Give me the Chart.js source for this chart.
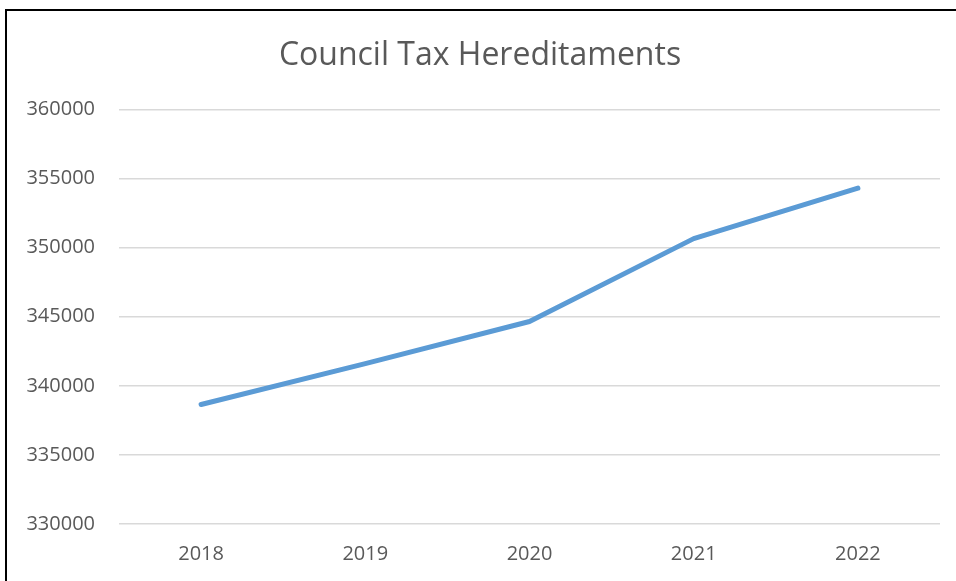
<!DOCTYPE html>
<html>
<head>
<meta charset="utf-8">
<script src="https://cdn.jsdelivr.net/npm/chart.js@4"></script>
<style>
  html, body { margin: 0; padding: 0; background: #ffffff; }
  #wrap { position: relative; width: 956px; height: 581px; overflow: hidden; }
  #frame { position: absolute; left: 5px; top: 9px; right: -10px; bottom: -10px; border-top: 2px solid #000; border-left: 2px solid #000; pointer-events: none; }
  canvas { position: absolute; left: 0; top: 0; }
</style>
</head>
<body>
<div id="wrap">
  <canvas id="c" width="956" height="581"></canvas>
  <div id="frame"></div>
</div>
<script>
const chartTitle = "Council Tax Hereditaments";
const years = ["2018", "2019", "2020", "2021", "2022"];
const hereditaments = [338650, 341600, 344650, 350650, 354300];
const yMin = 330000;
const yMax = 360000;
const yStep = 5000;

const textColor = "#595959";
const fontFamily = "'Open Sans', 'Noto Sans', sans-serif";

new Chart(document.getElementById("c"), {
  type: "line",
  data: {
    labels: years,
    datasets: [{
      label: chartTitle,
      data: hereditaments,
      borderColor: "#5B9BD5",
      backgroundColor: "#5B9BD5",
      borderWidth: 5,
      borderCapStyle: "round",
      borderJoinStyle: "round",
      pointRadius: 0,
      tension: 0,
      fill: false
    }]
  },
  options: {
    responsive: false,
    animation: false,
    devicePixelRatio: 1,
    layout: { padding: { top: 13, right: 16, bottom: -3, left: 20 } },
    plugins: {
      legend: { display: false },
      tooltip: { enabled: false },
      title: {
        display: true,
        text: chartTitle,
        color: textColor,
        font: { family: fontFamily, size: 32, weight: "normal", lineHeight: 1.2 },
        padding: { top: 24, bottom: 34 }
      }
    },
    scales: {
      x: {
        offset: true,
        grid: { display: false, drawTicks: false },
        border: { display: false },
        ticks: {
          color: textColor,
          padding: 18,
          font: { family: fontFamily, size: 20, lineHeight: 1.2 }
        }
      },
      y: {
        min: yMin,
        max: yMax,
        grid: { color: "#D9D9D9", lineWidth: 1.5, drawTicks: false },
        border: { display: false },
        afterFit: (scale) => { scale.width = 99; },
        ticks: {
          stepSize: yStep,
          color: textColor,
          padding: 24,
          font: { family: fontFamily, size: 20 },
          callback: (v) => String(v)
        }
      }
    }
  }
});
</script>
</body>
</html>
